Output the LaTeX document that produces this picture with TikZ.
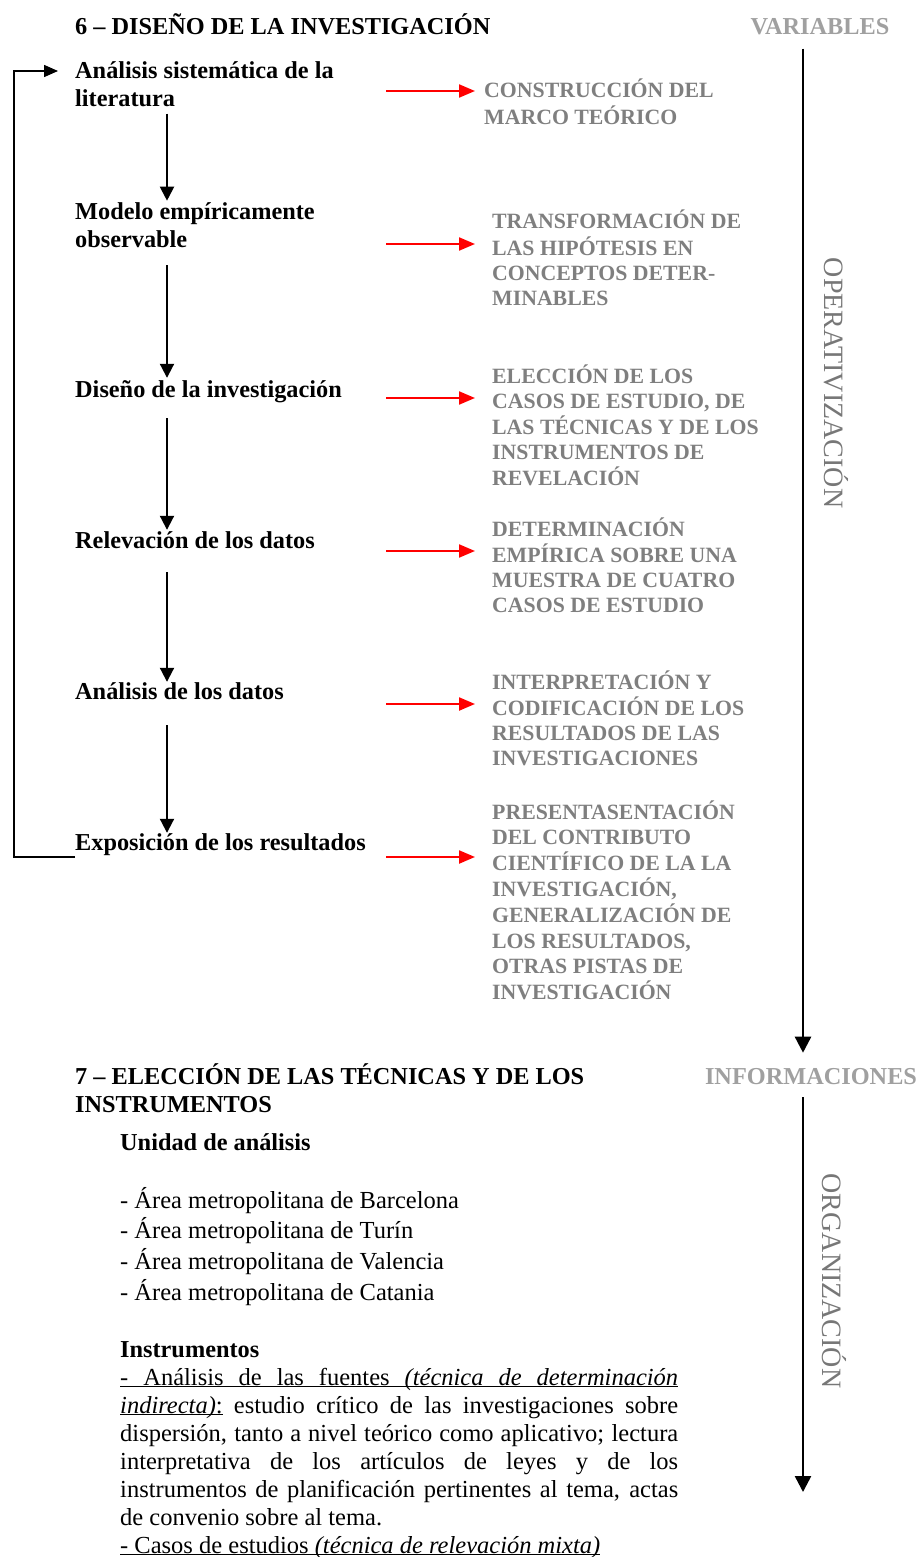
\documentclass[tikz,border=0pt]{standalone}
\usepackage{fontspec}
\setmainfont{Liberation Serif}
\usetikzlibrary{arrows.meta,calc}
\definecolor{gtxt}{HTML}{7F7F7F}
\definecolor{ltxt}{HTML}{A0A0A0}
\definecolor{vtxt}{HTML}{777777}
\newcommand\rows[1]{\begin{tabular}[t]{@{}l@{}}#1\end{tabular}}
\newcommand\jl[1]{\makebox[558pt][s]{#1}}
\newcommand\ulin[1]{\underline{\raisebox{0pt}[\height][0pt]{#1}}}
\begin{document}
\begin{tikzpicture}[x=1pt,y=-1pt,
  lbl/.style={anchor=base west,inner sep=0pt,font=\bfseries\fontsize{24.3}{28}\selectfont},
  gry/.style={anchor=base west,inner sep=0pt,text=gtxt,font=\bfseries\fontsize{21.8}{25.2}\selectfont},
  hdr/.style={anchor=base,inner sep=0pt,text=ltxt,font=\bfseries\fontsize{24.3}{28}\selectfont},
  vert/.style={rotate=-90,inner sep=0pt,text=vtxt,font=\fontsize{28}{30}\selectfont},
  body/.style={anchor=base west,inner sep=0pt,font=\fontsize{24.5}{28}\selectfont},
  dn/.style={line width=2pt,-{Triangle[length=14pt,width=14pt]}},
  rd/.style={red,line width=2.2pt,-{Triangle[length=16pt,width=13pt]}},
  axis/.style={line width=2.5pt,-{Triangle[length=16pt,width=16pt]}},
  fb/.style={line width=1.5pt,-{Triangle[length=14pt,width=12pt]}}
]
\useasboundingbox (0,0) rectangle (918,1557);

% section 6 title and left flow
\node[lbl] (t6) at (75,35) {6 – DISEÑO DE LA INVESTIGACIÓN};
\node[lbl] (l1) at (75,79) {\rows{Análisis sistemática de la\\literatura}};
\node[lbl] (l2) at (75,219) {\rows{Modelo empíricamente\\observable}};
\node[lbl] (l3) at (75,397) {\rows{Diseño de la investigación}};
\node[lbl] (l4) at (75,548) {\rows{Relevación de los datos}};
\node[lbl] (l5) at (75,699) {\rows{Análisis de los datos}};
\node[lbl] (l6) at (75,850) {\rows{Exposición de los resultados}};

\coordinate (cx) at (167,0);
\draw[dn] ([yshift=2pt]l1.south -| cx) -- ([yshift=-1.5pt]l2.north -| cx);
\draw[dn] ([yshift=-9.6pt]l2.south -| cx) -- ([yshift=-0.6pt]l3.north -| cx);
\draw[dn] ([yshift=-12.6pt]l3.south -| cx) -- ([yshift=-1.6pt]l4.north -| cx);
\draw[dn] ([yshift=-15.6pt]l4.south -| cx) -- ([yshift=-2.6pt]l5.north -| cx);
\draw[dn] ([yshift=-17.6pt]l5.south -| cx) -- ([yshift=-2.6pt]l6.north -| cx);

\draw[fb] ([yshift=-7pt]l6.base west) -- ++(-61,0) |- ([xshift=-17pt,yshift=8pt]l1.base west);

% grey results
\node[gry] (g1) at (484,98) {\rows{CONSTRUCCIÓN DEL\\MARCO TEÓRICO}};
\node[gry] (g2) at (492,229) {\rows{TRANSFORMACIÓN DE\\LAS HIPÓTESIS EN\\CONCEPTOS DETER-\\MINABLES}};
\node[gry] (g3) at (492,383) {\rows{ELECCIÓN DE LOS\\CASOS DE ESTUDIO, DE\\LAS TÉCNICAS Y DE LOS\\INSTRUMENTOS DE\\REVELACIÓN}};
\node[gry] (g4) at (492,536) {\rows{DETERMINACIÓN\\EMPÍRICA SOBRE UNA\\MUESTRA DE CUATRO\\CASOS DE ESTUDIO}};
\node[gry] (g5) at (492,689) {\rows{INTERPRETACIÓN Y\\CODIFICACIÓN DE LOS\\RESULTADOS DE LAS\\INVESTIGACIONES}};
\node[gry] (g6) at (492,819) {\rows{PRESENTASENTACIÓN\\DEL CONTRIBUTO\\CIENTÍFICO DE LA LA\\INVESTIGACIÓN,\\GENERALIZACIÓN DE\\LOS RESULTADOS,\\OTRAS PISTAS DE\\INVESTIGACIÓN}};

\coordinate (r1) at (386,91);
\coordinate (r2) at (386,244);
\coordinate (r3) at (386,398);
\coordinate (r4) at (386,551);
\coordinate (r5) at (386,704);
\coordinate (r6) at (386,857);
\draw[rd] (r1) -- ([xshift=-9pt]g1.west |- r1);
\draw[rd] (r2) -- ([xshift=-17pt]g2.west |- r2);
\draw[rd] (r3) -- ([xshift=-17pt]g3.west |- r3);
\draw[rd] (r4) -- ([xshift=-17pt]g4.west |- r4);
\draw[rd] (r5) -- ([xshift=-17pt]g5.west |- r5);
\draw[rd] (r6) -- ([xshift=-17pt]g6.west |- r6);

% right axis
\node[hdr] (var) at (820,35) {VARIABLES};
\node[hdr] (inf) at (811,1084) {INFORMACIONES};
\coordinate (ax) at (803,0);
\coordinate (axend) at (803,1492);
\draw[axis] ([yshift=-13pt]var.south -| ax) -- ([yshift=15pt]inf.north -| ax);
\draw[axis] ([yshift=-13pt]inf.south -| ax) -- (axend);
\node[vert] (op) at (836,383) {OPERATIVIZACIÓN};
\node[vert] (org) at (834,1281) {ORGANIZACIÓN};

% section 7
\node[lbl] (t7) at (75,1084) {\rows{7 – ELECCIÓN DE LAS TÉCNICAS Y DE LOS\\INSTRUMENTOS}};
\node[lbl] (ua) at (120,1150) {Unidad de análisis};
\node[body,font=\fontsize{24.5}{30.7}\selectfont] (list) at (120,1208) {\rows{- Área metropolitana de Barcelona\\- Área metropolitana de Turín\\- Área metropolitana de Valencia\\- Área metropolitana de Catania}};
\node[lbl] (ins) at (120,1357) {Instrumentos};
\node[body] (par) at (120,1385) {\rows{\ulin{\jl{- Análisis de las fuentes \textit{(técnica de determinación}}}\\
\jl{\ulin{\textit{indirecta)}:} estudio crítico de las investigaciones sobre}\\
\jl{dispersión, tanto a nivel teórico como aplicativo; lectura}\\
\jl{interpretativa de los artículos de leyes y de los}\\
\jl{instrumentos de planificación pertinentes al tema, actas}\\
de convenio sobre al tema.\\
\ulin{- Casos de estudios \textit{(técnica de relevación mixta)}}}};
\end{tikzpicture}
\end{document}
